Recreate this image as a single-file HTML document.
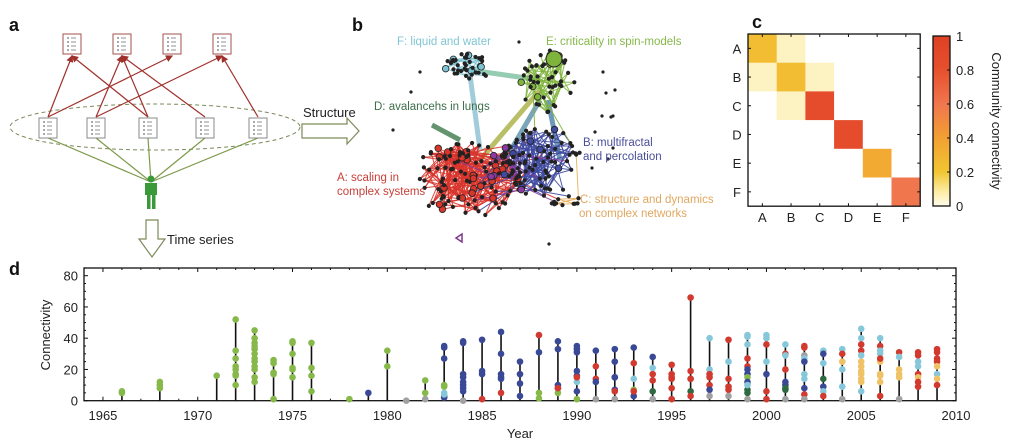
<!DOCTYPE html>
<html><head><meta charset="utf-8">
<style>
body{margin:0;background:#fff;width:1016px;height:446px;overflow:hidden;font-family:"Liberation Sans",sans-serif}
svg{display:block}
</style></head><body>
<svg id="fig" width="1016" height="446" viewBox="0 0 1016 446" font-family="Liberation Sans, sans-serif">
<g font-weight="bold" font-size="18" fill="#111">
<text x="9" y="31">a</text>
<text x="352" y="31">b</text>
<text x="752" y="28">c</text>
<text x="9" y="275">d</text>
</g>
<g id="pa"></g>
<g id="pb"></g>
<g id="pc"></g>
<g id="pd"></g>
</svg>
<script>
const NS='http://www.w3.org/2000/svg';
function mk(p,t,a){const e=document.createElementNS(NS,t);for(const k in a)e.setAttribute(k,a[k]);p.appendChild(e);return e;}
function tx(p,x,y,s,a){const e=mk(p,'text',Object.assign({x:x,y:y},a||{}));e.textContent=s;return e;}

/* ---------- panel d data ---------- */
const years=[1966,1968,1971,1972,1973,1974,1975,1976,1978,1979,1980,1981,1982,1983,1984,1985,1986,1987,1988,1989,1990,1991,1992,1993,1994,1995,1996,1997,1998,1999,2000,2001,2002,2003,2004,2005,2006,2007,2008,2009];
const yearValues=[
[5,6],[8,10,12],[16],[52,32,27,22,20,17,16,10],[45,40,37,35,33,30,27,25,22,20,15,12],[26,24,18,17,1],[38,37,30,21,20,15],[37,21,16,6],[1],[5],[32,22],[0],[13,5,1],
[35,34,27,3,2,10,9,5,4],[38,37,17,15,12,10,8,6,0],[39,19,17,1],[44,30,17,15,14,5],[25,17,11,3],[42,31,5,1.5],[38,33,10,8,5,8],
[35,33,31,19,16,6,12,15,1],[32,22,14,12,1],[33,25,15,15,7,6,1],[34,24,14,7,3,6],[28,21,17,13,6,1],[23,17,15,14,8,1],[66,19,14,14,6,3],
[40,20,17,15,10,7,3],[39,25,14,9,7,3],[42,41,36,27,22,20,17,15,12,7,5,10,1],[42,40,36,25,17,6,1],[36,30,29,20,12,10,8,7,1],
[35,34,29,27,25,17,14,8,4,1],[32,30,24,14,9,6,3],[33,30,25,20,9,1],[46,40,36,32,29,25,22,19,17,14,12,6],[40,35,32,30,25,27,17,16,12,3],
[31,28,20,17,15,1],[31,29,25,22,17,15,12,9],[33,31,27,25,22,17,14,10]];
const yearColors=[
"gg","ggg","g","gggggggg","gggggggggggg","ggggg","gggggg","gggg","g","n","gg","k","ggk",
"nnnnnggll","nnnnnnnnk","nnnr","nnnnnr","nnnn","rngg","nnnngr",
"nnnnnnlrg","nrrnk","nnnnnrk","nrlgnr","nlrrdk","rrrrrr","rrrrdr",
"llrrrnk","rlrrrk","lllrrnngnddlk","llrlnrr","lrlrnnddk",
"rrklnllnrk","lnldnlr","lrollk","llrrloooooold","lrllorooor",
"rloook","rrllrorr","rrrrolor"];
const xTicks=[1965,1970,1975,1980,1985,1990,1995,2000,2005,2010];
const yTicks=[0,20,40,60,80];
const colorMap={g:'#86b84a',n:'#3a4996',r:'#d23a30',l:'#86c8da',k:'#a0a0a0',d:'#2d6a40',o:'#f0c266'};

const pd=document.getElementById('pd');
const X=v=>84+(v-1964)*(956-84)/46;
const Y=v=>400.7-v*(125/80);
(function(){
 const ax=mk(pd,'g',{});
 
 
 mk(ax,'rect',{x:84,y:268,width:872,height:132.7,fill:'none',stroke:'#111','stroke-width':1.3});
 for(let y=1964;y<=2010;y++){const maj=(y%5===0);
  mk(ax,'line',{x1:X(y),x2:X(y),y1:400.7,y2:400.7-(maj?4:2),stroke:'#111'});
  mk(ax,'line',{x1:X(y),x2:X(y),y1:268,y2:268+(maj?4:2),stroke:'#111'});}
 xTicks.forEach(t=>{const e=tx(ax,X(t),420,String(t),{'text-anchor':'middle','font-size':13,fill:'#222'});
  });
 for(let v=0;v<=85;v+=5){const maj=v%20===0;
  mk(ax,'line',{x1:84,x2:84+(maj?4:2),y1:Y(v),y2:Y(v),stroke:'#111'});
  mk(ax,'line',{x1:956,x2:956-(maj?4:2),y1:Y(v),y2:Y(v),stroke:'#111'});}
 yTicks.forEach(t=>{const e=tx(ax,78,Y(t)+5,String(t),{'text-anchor':'end','font-size':13,fill:'#222'});
  });
 const xt=tx(ax,520,438,'Year',{'text-anchor':'middle','font-size':13,fill:'#222'});
 
 const yt=tx(ax,0,0,'Connectivity',{'text-anchor':'middle','font-size':13,fill:'#222',transform:'translate(50,335) rotate(-90)'});
 
 years.forEach((yr,i)=>{const vals=yearValues[i];const cols=yearColors[i];
  const g=mk(pd,'g',{});
  
  
  const mx=Math.max(...vals);
  mk(g,'line',{x1:X(yr),x2:X(yr),y1:Y(0),y2:Y(mx),stroke:'#111','stroke-width':1.6});
  vals.forEach((v,j)=>{const c=mk(g,'circle',{cx:X(yr),cy:Y(v),r:3.3,fill:colorMap[cols[j]]||'#888'});
   });
 });
})();

/* ---------- panel c heatmap ---------- */
const communities=['A','B','C','D','E','F'];
const matrix=[
[0.25,0.05,0,0,0,0],
[0.05,0.25,0.05,0,0,0],
[0,0.05,0.85,0,0,0],
[0,0,0,0.85,0,0],
[0,0,0,0,0.35,0],
[0,0,0,0,0,0.6]];
const cbTicks=[0,0.2,0.4,0.6,0.8,1];
const stops=[[0,[255,252,235]],[0.1,[250,232,150]],[0.2,[242,198,50]],[0.4,[242,160,50]],[0.6,[240,118,78]],[0.8,[230,80,45]],[1,[222,64,36]]];
function cmap(v){for(let i=1;i<stops.length;i++){if(v<=stops[i][0]){const a=stops[i-1],b=stops[i];const t=(v-a[0])/(b[0]-a[0]);
 return 'rgb('+a[1].map((c,k)=>Math.round(c+(b[1][k]-c)*t)).join(',')+')';}}return 'rgb(222,64,36)';}
(function(){
 const pc=document.getElementById('pc');const x0=748,y0=34,cs=28.7;
 matrix.forEach((row,i)=>row.forEach((v,j)=>{const r=mk(pc,'rect',{x:x0+j*cs,y:y0+i*cs,width:cs+0.3,height:cs+0.3,fill:v>0?cmap(v):'#fff'});
  }));
 mk(pc,'rect',{x:x0,y:y0,width:cs*6,height:cs*6,fill:'none',stroke:'#111','stroke-width':1.3});
 communities.forEach((c,i)=>{
  const l=tx(pc,737,y0+i*cs+cs/2+5,c,{'text-anchor':'middle','font-size':13,fill:'#222'});
  
  const b=tx(pc,x0+i*cs+cs/2,222,c,{'text-anchor':'middle','font-size':13,fill:'#222'});
  
  mk(pc,'line',{x1:x0,x2:x0+3,y1:y0+i*cs+cs/2,y2:y0+i*cs+cs/2,stroke:'#111'});
  mk(pc,'line',{x1:x0+cs*6,x2:x0+cs*6-3,y1:y0+i*cs+cs/2,y2:y0+i*cs+cs/2,stroke:'#111'});
  mk(pc,'line',{x1:x0+i*cs+cs/2,x2:x0+i*cs+cs/2,y1:y0+cs*6,y2:y0+cs*6-3,stroke:'#111'});
  mk(pc,'line',{x1:x0+i*cs+cs/2,x2:x0+i*cs+cs/2,y1:y0,y2:y0+3,stroke:'#111'});});
 const defs=mk(pc,'defs',{});const lg=mk(defs,'linearGradient',{id:'cbg',x1:0,y1:1,x2:0,y2:0});
 for(let k=0;k<=20;k++){mk(lg,'stop',{offset:k/20,'stop-color':cmap(k/20)});}
 const cb=mk(pc,'rect',{x:933,y:36,width:17,height:170,fill:'url(#cbg)',stroke:'#111','stroke-width':1.3});
 
 cbTicks.forEach(t=>{const yy=206-t*170;mk(pc,'line',{x1:950,x2:947,y1:yy,y2:yy,stroke:'#111'});
  const l=tx(pc,956,yy+5,String(t),{'font-size':13,fill:'#222'});
  });
 const ct=tx(pc,0,0,'Community connectivity',{'text-anchor':'middle','font-size':13,fill:'#222',transform:'translate(992,121) rotate(90)'});
 
})();

/* ---------- panel a diagram ---------- */
(function(){
 const pa=document.getElementById('pa');
 const top=[[72,44],[122,44],[172,44],[222,44]];
 const low=[[48,128],[96,128],[148,128],[205,128],[258,128]];
 const defs=mk(pa,'defs',{});const m=mk(defs,'marker',{id:'ah',markerWidth:6,markerHeight:6,refX:5,refY:3,orient:'auto'});
 mk(m,'path',{d:'M0,0L6,3L0,6z',fill:'#a0302c'});
 mk(pa,'ellipse',{cx:155,cy:127,rx:145,ry:23,fill:'none',stroke:'#7a8a5a','stroke-dasharray':'4,3'});
 [[0,0],[0,2],[1,1],[1,3],[2,0],[2,1],[3,1],[4,3]].forEach(([l,t])=>{
  mk(pa,'line',{x1:low[l][0],y1:low[l][1]-11,x2:top[t][0],y2:top[t][1]+12,stroke:'#a0302c','stroke-width':1.2,'marker-end':'url(#ah)'});});
 low.forEach(p=>mk(pa,'line',{x1:151,y1:182,x2:p[0],y2:p[1]+10,stroke:'#7d9a4a','stroke-width':1.2}));
 function doc(p,c,name){const g=mk(pa,'g',{});
  mk(g,'rect',{x:p[0]-9,y:p[1]-10,width:18,height:20,fill:'#fff',stroke:c,'stroke-width':1});
  for(let i=0;i<4;i++){mk(g,'line',{x1:p[0]-5,x2:p[0]-3,y1:p[1]-6+i*4,y2:p[1]-6+i*4,stroke:'#555','stroke-width':1});
   mk(g,'line',{x1:p[0]-1,x2:p[0]+4,y1:p[1]-6+i*4,y2:p[1]-6+i*4,stroke:'#777','stroke-width':0.8});}}
 top.forEach(p=>doc(p,'#a0504c','cited-paper'));low.forEach(p=>doc(p,'#888','author-paper'));
 const person=mk(pa,'g',{fill:'#3a9a3a'});
 mk(person,'circle',{cx:151,cy:179,r:3.5});mk(person,'rect',{x:145,y:183,width:12,height:12});
 mk(person,'rect',{x:147,y:194,width:3.5,height:15});mk(person,'rect',{x:152,y:194,width:3.5,height:15});
 const a1=mk(pa,'path',{d:'M302,124h45v-6l12,13l-12,13v-6h-45z',fill:'#fff',stroke:'#7d8a5a','stroke-width':1.2});
 
 const st=tx(pa,303,117,'Structure',{'font-size':13,fill:'#222'});
 const a2=mk(pa,'path',{d:'M146,220h12v19h7l-13,18l-13,-18h7z',fill:'#fff',stroke:'#7d8a5a','stroke-width':1.2});
 
 const ts=tx(pa,167,244,'Time series',{'font-size':13,fill:'#222'});
})();

/* ---------- panel b network (illustration) ---------- */
(function(){
 const pb=document.getElementById('pb');let s=7;const rnd=()=>{s=(s*16807)%2147483647;return s/2147483647;};
 const clusters=[
  {c:[465,180],sx:34,sy:24,n:110,col:'#d8352c'},
  {c:[540,162],sx:26,sy:22,n:70,col:'#3f4aa0'},
  {c:[508,172],sx:12,sy:16,n:25,col:'#8a3aa0'},
  {c:[548,82],sx:18,sy:20,n:50,col:'#7fb43c'},
  {c:[468,68],sx:15,sy:9,n:40,col:'#7cc4d2'},
  {c:[566,202],sx:10,sy:4,n:12,col:'#e8b060'}];
 const nodes=[];
 clusters.forEach((cl,k)=>{for(let i=0;i<cl.n;i++){const a=rnd()*6.283,r=Math.sqrt(rnd());
  nodes.push({x:cl.c[0]+Math.cos(a)*r*cl.sx*1.6,y:cl.c[1]+Math.sin(a)*r*cl.sy*1.6,k:k});}});
 const eg=mk(pb,'g',{});
 [[480,160,540,90,'#a8b040'],[470,70,540,80,'#7cc0a0'],[505,160,540,100,'#5a90a8'],[560,160,548,100,'#4a80a8'],[432,125,460,140,'#3d7a4a'],[470,75,480,150,'#8ac0d0']].forEach(e=>{
  mk(eg,'line',{x1:e[0],y1:e[1],x2:e[2],y2:e[3],stroke:e[4],'stroke-width':5,opacity:0.8});});
 nodes.forEach((n,i)=>{for(let j=0;j<8;j++){const m=nodes[Math.floor(rnd()*nodes.length)];
  if(m.k!==n.k&&rnd()<0.85)continue;if(Math.hypot(m.x-n.x,m.y-n.y)>60)continue;
  mk(eg,'line',{x1:n.x,y1:n.y,x2:m.x,y2:m.y,stroke:clusters[n.k].col,'stroke-width':1,opacity:0.9});}});
 const ng=mk(pb,'g',{});
 nodes.forEach(n=>{const r=rnd()<0.15?3.3:1.7;mk(ng,'circle',{cx:n.x,cy:n.y,r:r,fill:r>2?clusters[n.k].col:'#222',stroke:'#222','stroke-width':0.8});});
 mk(ng,'circle',{cx:554,cy:59,r:8,fill:'#7fb43c',stroke:'#222'});
 [[420,72],[411,92],[393,130],[519,42],[606,93],[615,90],[611,117],[602,116],[613,116],[595,132],[613,148],[608,159],[592,168],[549,244],[603,72]].forEach(p=>mk(ng,'circle',{cx:p[0],cy:p[1],r:1.6,fill:'#222'}));
 mk(ng,'path',{d:'M456,238l6,-4l0,8z',fill:'none',stroke:'#7a3a8a','stroke-width':1.5});
 const labs=[['F: liquid and water',397,45,'#80c6d4'],['E: criticality in spin-models',546,45,'#86b84a'],['D: avalancehs in lungs',374,110,'#3d6e4a'],
  ['B: multifractal',583,146,'#4a4f9a'],['and percolation',583,160,'#4a4f9a'],['A: scaling in',337,181,'#c8403a'],['complex systems',337,195,'#c8403a'],
  ['C: structure and dynamics',580,203,'#e0a860'],['on complex networks',579,217,'#e0a860']];
 labs.forEach(l=>{const e=tx(pb,l[1],l[2],l[0],{'font-size':11.5,fill:l[3]});
  });
})();
</script>
</body></html>
